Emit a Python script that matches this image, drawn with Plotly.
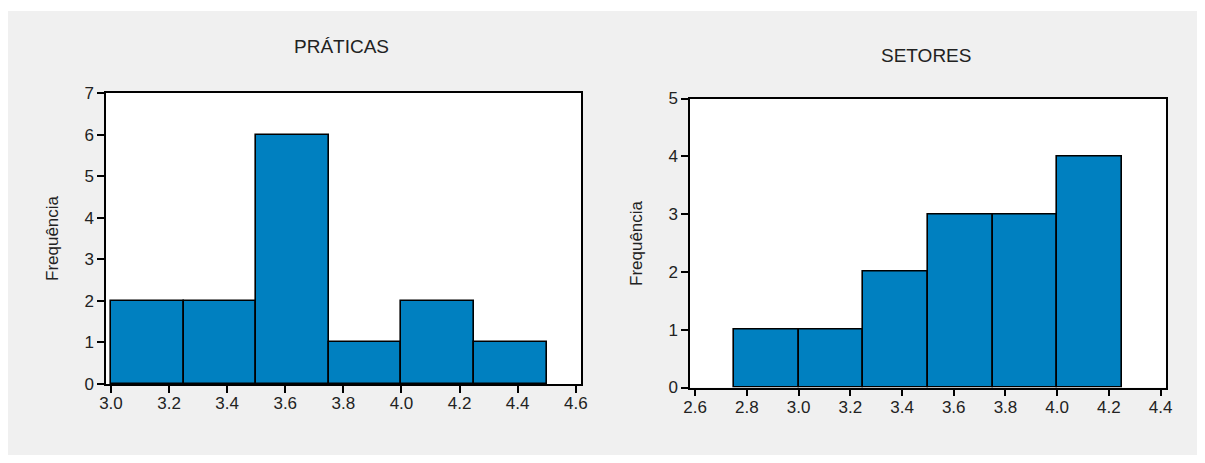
import plotly.graph_objects as go

# PRÁTICAS histogram (bin edges and counts)
prat_edges = [3.0, 3.25, 3.5, 3.75, 4.0, 4.25, 4.5]
prat_counts = [2, 2, 6, 1, 2, 1]
prat_xticks = [3.0, 3.2, 3.4, 3.6, 3.8, 4.0, 4.2, 4.4, 4.6]
prat_yticks = [0, 1, 2, 3, 4, 5, 6, 7]

# SETORES histogram
set_edges = [2.75, 3.0, 3.25, 3.5, 3.75, 4.0, 4.25]
set_counts = [1, 1, 2, 3, 3, 4]
set_xticks = [2.6, 2.8, 3.0, 3.2, 3.4, 3.6, 3.8, 4.0, 4.2, 4.4]
set_yticks = [0, 1, 2, 3, 4, 5]

titles = ["PRÁTICAS", "SETORES"]
ylabel = "Frequência"

# the page body has an 8px margin on every side; the figure fits inside it
OFF = 8
W, H = 1205 - 2 * OFF, 463 - 2 * OFF
BAR = "#0080C0"
BG = "#F0F0F0"
FONT = "Liberation Sans"
TXT = "#222222"


def centers(edges):
    return [(a + b) / 2 for a, b in zip(edges[:-1], edges[1:])]


def widths(edges):
    return [b - a for a, b in zip(edges[:-1], edges[1:])]


fig = go.Figure()
fig.add_trace(go.Bar(x=centers(prat_edges), y=prat_counts, width=widths(prat_edges),
                     marker=dict(color=BAR, line=dict(color="black", width=1.6)),
                     xaxis="x", yaxis="y", showlegend=False))
fig.add_trace(go.Bar(x=centers(set_edges), y=set_counts, width=widths(set_edges),
                     marker=dict(color=BAR, line=dict(color="black", width=1.6)),
                     xaxis="x2", yaxis="y2", showlegend=False))


def px_x(p):
    return (p - OFF) / W


def px_y(p):
    return 1 - (p - OFF) / H


axis_common = dict(showline=True, linecolor="black", linewidth=1.5, mirror=True,
                   ticks="outside", ticklen=7, tickwidth=1.5, tickcolor="black",
                   showgrid=False, zeroline=False, automargin=False,
                   tickfont=dict(family=FONT, size=17, color=TXT))

fig.update_layout(
    width=W, height=H,
    autosize=False,
    margin=dict(l=0, r=0, t=0, b=0, pad=0, autoexpand=False),
    paper_bgcolor=BG,
    plot_bgcolor="white",
    font=dict(family=FONT),
    bargap=0,
    showlegend=False,
    xaxis=dict(domain=[px_x(106), px_x(581)], range=[2.983, 4.618],
               tickvals=prat_xticks, ticktext=[f"{v:.1f}" for v in prat_xticks],
               ticklabelstandoff=-4, anchor="y", **axis_common),
    yaxis=dict(domain=[px_y(384), px_y(93)], range=[0, 7],
               tickvals=prat_yticks, anchor="x", **axis_common),
    xaxis2=dict(domain=[px_x(690), px_x(1166)], range=[2.58, 4.421],
                tickvals=set_xticks, ticktext=[f"{v:.1f}" for v in set_xticks],
                ticklabelstandoff=-4, anchor="y2", **axis_common),
    yaxis2=dict(domain=[px_y(387.5), px_y(98.5)], range=[0, 5],
                tickvals=set_yticks, anchor="x2", **axis_common),
    shapes=[dict(type="rect", xref="paper", yref="paper",
                 x0=0, x1=1, y0=px_y(11), y1=1,
                 fillcolor="white", line=dict(width=0), layer="below")],
    annotations=[
        dict(text=titles[0], x=px_x(341), y=px_y(47), xref="paper", yref="paper",
             showarrow=False, xanchor="center", yanchor="middle",
             font=dict(family=FONT, size=19, color=TXT)),
        dict(text=titles[1], x=px_x(926), y=px_y(55), xref="paper", yref="paper",
             showarrow=False, xanchor="center", yanchor="middle",
             font=dict(family=FONT, size=19, color=TXT)),
        dict(text=ylabel, x=px_x(52), y=px_y(238), xref="paper", yref="paper",
             showarrow=False, textangle=-90, xanchor="center", yanchor="middle",
             font=dict(family=FONT, size=17, color=TXT)),
        dict(text=ylabel, x=px_x(636), y=px_y(243), xref="paper", yref="paper",
             showarrow=False, textangle=-90, xanchor="center", yanchor="middle",
             font=dict(family=FONT, size=17, color=TXT)),
    ],
)

fig.write_html("out.html")
